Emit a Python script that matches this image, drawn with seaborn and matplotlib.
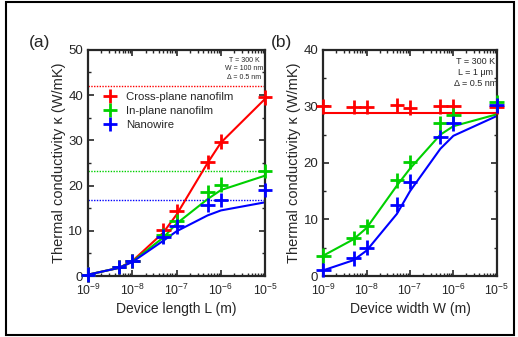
import numpy as np
import pandas as pd
import matplotlib
matplotlib.use("Agg")
import matplotlib.pyplot as plt
from matplotlib.ticker import LogLocator, LogFormatterMathtext, MultipleLocator, NullFormatter
import seaborn as sns

# data
sizes = [1e-9, 5e-9, 1e-8, 5e-8, 1e-7, 5e-7, 1e-6, 1e-5]
series = ["Cross-plane nanofilm", "In-plane nanofilm", "Nanowire"]
colors = ["#ff0000", "#00d000", "#0000ff"]

# panel (a): kappa vs device length, W = 100 nm
a_cross_pts = [0.3, 2.0, 3.3, 10.1, 14.3, 25.2, 29.7, 39.5]
a_inplane_pts = [0.3, 2.0, 3.3, 9.0, 12.2, 18.5, 20.2, 23.2]
a_wire_pts = [0.3, 2.0, 3.3, 8.7, 11.0, 15.7, 16.8, 19.0]
a_cross_line = [0.3, 1.8, 3.3, 9.6, 13.6, 25.0, 29.5, 39.2]
a_inplane_line = [0.3, 1.8, 3.2, 8.5, 11.6, 17.0, 19.0, 22.2]
a_wire_line = [0.3, 1.8, 3.1, 7.8, 9.9, 13.4, 14.5, 16.3]
a_bulk = [42.0, 23.2, 16.9]

# panel (b): kappa vs device width, L = 1 um
b_cross_pts = [30.0, 29.9, 29.9, 30.2, 29.8, 30.0, 30.0, 29.9]
b_inplane_pts = [3.6, 6.7, 8.8, 16.9, 20.2, 27.0, 28.4, 30.7]
b_wire_pts = [1.1, 3.1, 5.0, 12.6, 16.7, 24.6, 27.0, 30.2]
b_cross_line = [28.9, 28.9, 28.9, 28.9, 28.9, 28.9, 28.9, 28.9]
b_inplane_line = [3.6, 6.5, 8.5, 16.0, 19.0, 25.0, 26.5, 28.6]
b_wire_line = [1.0, 2.8, 4.5, 11.0, 15.0, 22.5, 24.8, 28.3]


def to_frame(vals):
    rows = []
    for name, v in zip(series, vals):
        for x, y in zip(sizes, v):
            rows.append({"x": x, "k": y, "type": name})
    return pd.DataFrame(rows)


sns.set_style("ticks")
plt.rcParams["font.family"] = ["Liberation Sans", "DejaVu Sans"]
plt.rcParams["mathtext.default"] = "regular"
plt.rcParams["xtick.direction"] = "in"
plt.rcParams["ytick.direction"] = "in"

palette = dict(zip(series, colors))
fig = plt.figure(figsize=(5.18, 3.37), dpi=100)
ax_a = fig.add_axes([0.170, 0.181, 0.342, 0.671])
ax_b = fig.add_axes([0.624, 0.181, 0.335, 0.671])

panels = [
    (ax_a, [a_cross_pts, a_inplane_pts, a_wire_pts], [a_cross_line, a_inplane_line, a_wire_line],
     "Device length L (m)", 50, "T = 300 K\nW = 100 nm\n\u0394 = 0.5 nm", 5),
    (ax_b, [b_cross_pts, b_inplane_pts, b_wire_pts], [b_cross_line, b_inplane_line, b_wire_line],
     "Device width W (m)", 40, "T = 300 K\nL = 1 \u03bcm\n\u0394 = 0.5 nm", 6.5),
]

for ax, pts, lines, xlabel, ymax, note, nsize in panels:
    sns.lineplot(data=to_frame(lines), x="x", y="k", hue="type", palette=palette,
                 lw=1.5, ax=ax, legend=False, sort=False)
    sns.scatterplot(data=to_frame(pts), x="x", y="k", hue="type", palette=palette,
                    marker="+", s=110, linewidth=2, ax=ax, legend=False, zorder=4,
                    clip_on=False)
    ax.set_xscale("log")
    ax.set_xlim(1e-9, 1e-5)
    ax.set_ylim(0, ymax)
    ax.xaxis.set_major_locator(LogLocator(base=10, numticks=10))
    ax.xaxis.set_major_formatter(LogFormatterMathtext())
    ax.xaxis.set_minor_locator(LogLocator(base=10, subs=np.arange(2, 10), numticks=10))
    ax.xaxis.set_minor_formatter(NullFormatter())
    ax.yaxis.set_major_locator(MultipleLocator(10))
    ax.yaxis.set_minor_locator(MultipleLocator(5))
    ax.tick_params(which="both", top=True, right=True)
    ax.tick_params(axis="y", labelsize=9.5)
    ax.tick_params(axis="x", labelsize=8.8, pad=5)
    ax.tick_params(which="major", length=4, width=1.2)
    ax.tick_params(which="minor", length=2, width=1)
    for sp in ax.spines.values():
        sp.set_linewidth(1.6)
    ax.set_xlabel(xlabel, fontsize=10, labelpad=3)
    ax.set_ylabel("Thermal conductivity \u03ba (W/mK)", fontsize=10.5, labelpad=2)
    ax.text(0.88, 0.97, note, transform=ax.transAxes, ha="center", va="top",
            fontsize=nsize, linespacing=1.3)

for c, v in zip(colors, a_bulk):
    ax_a.axhline(v, color=c, ls=(0, (1, 1)), lw=1, zorder=1)

handles = [plt.Line2D([], [], ls="none", marker="+", ms=10, mew=2, color=c) for c in colors]
ax_a.legend(handles, series, loc="upper left", bbox_to_anchor=(0.0, 0.86), frameon=False,
            fontsize=8.2, handletextpad=0.4, labelspacing=0.35)

fig.text(0.055, 0.86, "(a)", fontsize=12.5)
fig.text(0.523, 0.86, "(b)", fontsize=12.5)
fig.patches.append(plt.Rectangle((0.012, 0.006), 0.98, 0.988, transform=fig.transFigure,
                                 fill=False, ec="black", lw=1.5))

fig.savefig("out.png", dpi=100)
